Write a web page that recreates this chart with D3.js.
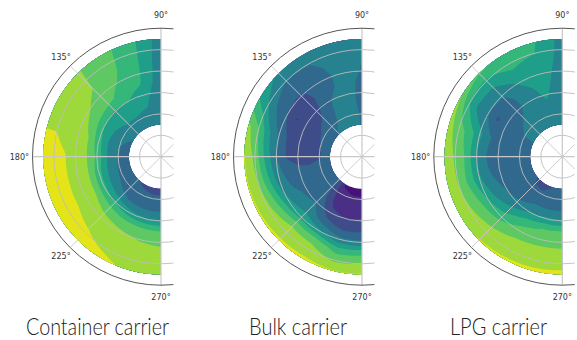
<!DOCTYPE html>
<html><head><meta charset="utf-8">
<script src="https://cdn.jsdelivr.net/npm/d3@7"></script>
<style>html,body{margin:0;background:#fff}svg{display:block}</style></head>
<body><svg id="c" width="577" height="340"></svg>
<script>
// value grids: rows = radius (7.5 … 27.5), columns = angle (90° … 270° every 15°)
const titles = ["Container carrier","Bulk carrier","LPG carrier"];
const titleX = [97.5,298,498.5];
const titleW = [143,98,97];
const angles = d3.range(90,271,15);
const radii = d3.range(7.5,27.6,2.5);
const tickAngles = [90,135,180,225,270];
const gridAngles = [0,45,90,135,180,225,270,315];
const gridRadii = [5,10,15,20,25,30];
const bandColors = ["#46127a","#492f85","#3e4c8a","#31688e","#26828e","#1f9e89","#35b779","#5ec962","#9dd93b","#e4e419"];
const thresholds = [-1.5,0,1,2,3,4,5,6,7,8];
const container = [
 [3.2,3.4,3.4,3.3,3.0,2.7,2.4,2.35,2.2,2.1,1.85,1.7,1.6],
 [3.2,3.8,3.8,3.8,3.4,3.05,3.0,2.85,2.7,2.55,2.3,2.2,2.25],
 [3.25,4.05,4.4,4.4,4.1,3.85,3.97,3.8,3.55,3.1,2.9,2.8,2.8],
 [3.3,4.4,5.0,4.9,5.0,5.4,5.8,5.4,5.25,4.95,4.4,4.15,4.1],
 [3.3,4.95,5.7,6.2,6.5,7.0,7.1,7.1,7.0,6.7,6.4,6.2,6.05],
 [3.35,5.1,5.95,6.6,7.2,7.35,7.55,7.55,7.5,7.35,7.2,6.95,6.85],
 [3.35,5.2,6.2,7.0,7.4,7.8,8.05,8.05,8.02,7.8,7.5,7.3,7.2],
 [3.4,5.25,6.3,7.05,7.55,7.95,8.5,8.4,8.4,8.15,7.8,7.55,7.4],
 [3.45,5.3,6.35,7.1,7.65,7.95,8.7,8.7,8.6,8.4,8.2,7.8,7.6]
];
const bulk = [
 [2.95,3.2,3.3,3.03,2.5,2.3,2.4,2.5,2.2,2.4,-0.1,-0.5,-0.6],
 [2.9,3.3,3.2,2.6,2.2,2.0,1.9,2.3,2.4,2.2,0.3,0.2,0.2],
 [2.8,3.3,3.05,2.1,1.7,1.6,1.7,2.2,2.5,2.4,0.7,0.6,0.65],
 [2.8,3.3,2.95,1.7,1.3,1.4,1.7,2.3,2.8,2.95,1.4,0.95,1.1],
 [2.85,3.3,2.6,1.6,0.95,1.7,1.9,2.7,3.2,3.6,2.5,1.85,1.9],
 [2.95,3.35,2.4,1.9,2.0,2.85,3.05,3.4,4.2,4.7,4.2,3.3,3.2],
 [3.0,3.4,2.7,2.4,2.8,4.2,4.7,5.2,6.0,6.85,6.7,5.5,5.7],
 [3.1,3.4,3.05,3.0,4.0,6.1,6.7,7.0,7.4,7.5,7.45,6.8,7.0],
 [3.1,3.5,3.4,3.7,5.0,7.3,8.1,8.1,8.1,8.15,8.2,8.05,8.1]
];
const lpg = [
 [3.2,3.4,3.4,3.3,3.2,2.5,2.3,2.4,2.3,1.8,1.6,2.05,2.3],
 [3.3,3.6,3.4,3.2,3.05,2.45,2.4,2.45,2.4,2.2,2.2,2.3,2.4],
 [3.35,3.85,3.4,3.05,2.6,2.35,2.5,2.5,2.65,2.6,2.9,2.9,2.9],
 [3.4,4.15,3.5,2.6,2.2,2.5,2.6,2.7,2.95,3.2,4.0,4.2,4.1],
 [3.45,4.35,3.75,2.6,1.9,3.1,2.9,3.1,3.6,4.5,5.5,6.0,6.05],
 [3.55,4.5,4.1,3.1,3.05,4.3,3.9,4.2,5.0,5.6,6.5,6.7,6.7],
 [3.6,4.75,4.8,3.9,3.7,5.6,5.85,5.7,6.4,6.8,7.15,7.2,7.2],
 [3.6,5.0,5.4,4.8,5.05,6.5,6.9,6.95,7.2,7.5,7.65,7.65,7.7],
 [3.6,5.2,5.95,6.1,7.1,7.4,7.6,7.7,7.85,8.05,8.1,8.15,8.2]
];
const panels = [
 {grid:container,cx:161},
 {grid:bulk,cx:362},
 {grid:lpg,cx:562.3}
];
const cy = 156.7;
const R = d3.scaleLinear().domain([0,30]).range([0,128.5]);
const rad = d => d*Math.PI/180;
const gridToTheta = d3.scaleLinear().domain([0.5,angles.length-0.5]).range([90,270]).clamp(true);
const gridToR = d3.scaleLinear().domain([0.5,radii.length-0.5]).range([7.5,27.5]).clamp(true);
const svg = d3.select("#c");
const defs = svg.append("defs");
panels.forEach((p,i)=>{
  const g = svg.append("g");
  defs.append("clipPath").attr("id","cp"+i).append("rect")
    .attr("x",p.cx-140).attr("y",0).attr("width",140+12.5).attr("height",340);
  const gc = g.append("g").attr("clip-path",`url(#cp${i})`);
  const X = (t,r)=>p.cx+R(r)*Math.cos(rad(t));
  const Y = (t,r)=>cy-R(r)*Math.sin(rad(t));
  const flat = [];
  p.grid.forEach(row=>row.forEach(v=>flat.push(v)));
  const cont = d3.contours().size([angles.length,radii.length]).thresholds(thresholds).smooth(true)(flat);
  const proj = ([x,y])=>{const t=gridToTheta(x),r=gridToR(y);return [X(t,r),Y(t,r)];};
  const dens = ring=>{
    const out=[];
    for(let k=0;k<ring.length-1;k++){
      const a=ring[k],b=ring[k+1];
      const n=Math.max(1,Math.ceil(Math.hypot(b[0]-a[0],b[1]-a[1])*4));
      for(let j=0;j<n;j++) out.push(proj([a[0]+(b[0]-a[0])*j/n,a[1]+(b[1]-a[1])*j/n]));
    }
    out.push(proj(ring[ring.length-1]));
    return out;
  };
  const path = d3.geoPath();
  gc.selectAll("path.band").data(cont).join("path").attr("class","band")
    .attr("d",c=>path({type:"MultiPolygon",coordinates:c.coordinates.map(poly=>poly.map(dens))}))
    .attr("fill",(c,k)=>bandColors[k]);
  gc.selectAll("circle.gr").data(gridRadii.slice(0,-1)).join("circle").attr("class","gr")
    .attr("cx",p.cx).attr("cy",cy).attr("r",d=>R(d))
    .attr("fill","none").attr("stroke","#bdbdbd").attr("stroke-width",0.9);
  gc.selectAll("line.sp").data(gridAngles).join("line").attr("class","sp")
    .attr("x1",p.cx).attr("y1",cy).attr("x2",d=>X(d,30)).attr("y2",d=>Y(d,30))
    .attr("stroke","#c8c8c8").attr("stroke-width",d=>d%90==0?1.2:0.9);
  gc.append("circle").attr("cx",p.cx).attr("cy",cy).attr("r",R(30))
    .attr("fill","none").attr("stroke","#555").attr("stroke-width",1);
  const pos = {90:[0,-142,"middle"],135:[-100,-100,"middle"],180:[-132,0,"end"],225:[-100,99,"middle"],270:[0,140,"middle"]};
  g.selectAll("text.t").data(tickAngles).join("text").attr("class","t")
    .attr("x",d=>p.cx+pos[d][0]).attr("y",d=>cy+pos[d][1]).attr("dy","0.36em")
    .attr("text-anchor",d=>pos[d][2])
    .attr("font-family","DejaVu Sans").attr("font-size",8).attr("fill","#333")
    .text(d=>d+"°");
  g.append("text").attr("x",titleX[i]).attr("y",335)
    .attr("text-anchor","middle").attr("font-family","Lato").attr("font-weight",300)
    .attr("font-size",23).attr("fill","#222")
    .attr("textLength",titleW[i]).attr("lengthAdjust","spacingAndGlyphs").text(titles[i]);
});
</script></body></html>
